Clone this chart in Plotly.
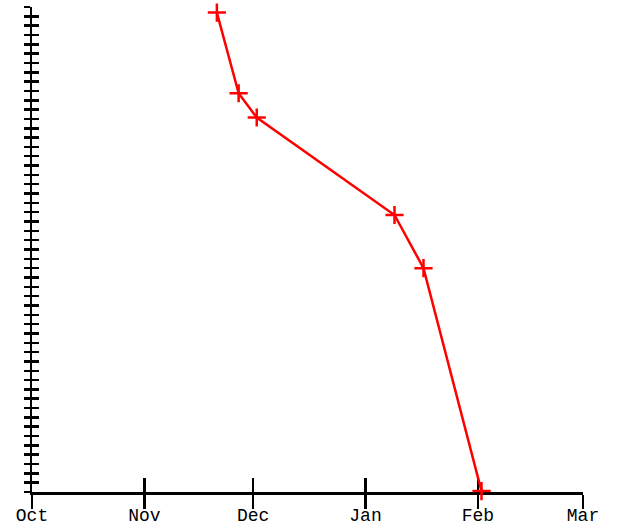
import plotly.graph_objects as go

dates = ["2023-11-21", "2023-11-27", "2023-12-02", "2024-01-09", "2024-01-17", "2024-02-02"]
values = [51.4, 42.75, 40.15, 29.7, 24.0, 0.1]
month_ticks = ["2023-10-01", "2023-11-01", "2023-12-01", "2024-01-01", "2024-02-01", "2024-03-01"]
month_labels = ["Oct", "Nov", "Dec", "Jan", "Feb", "Mar"]
y_ticks = list(range(0, 53))

xr = ["2023-10-01", "2024-03-01"]
yr = [0, 52]
font = dict(family="Liberation Mono, Courier New, monospace", size=18, color="black")

fig = go.Figure()
fig.add_trace(go.Scatter(
    x=dates, y=values, mode="lines+markers",
    line=dict(color="red", width=2.5),
    marker=dict(symbol="cross-thin", size=13, line=dict(color="red", width=2.5)),
    cliponaxis=False, showlegend=False, xaxis="x", yaxis="y", hoverinfo="skip",
))
# invisible trace for overlay axes
fig.add_trace(go.Scatter(x=[xr[0]], y=[yr[0]], mode="markers", opacity=0,
                         showlegend=False, hoverinfo="skip", xaxis="x2", yaxis="y2"))

common_x = dict(type="date", range=xr, tickmode="array", tickvals=month_ticks,
                showgrid=False, zeroline=False, tickwidth=2.5, tickcolor="black",
                ticklen=14, layer="below traces", automargin=False)
common_y = dict(range=yr, tickmode="array", tickvals=y_ticks, showgrid=False,
                zeroline=False, tickwidth=2.5, tickcolor="black", layer="below traces",
                automargin=False)

fig.update_layout(
    width=620, height=529,
    margin=dict(l=31.7, r=36.7, t=6.7, b=37, pad=0, autoexpand=False),
    paper_bgcolor="white", plot_bgcolor="white",
    font=font,
    xaxis=dict(**common_x, ticks="outside", ticktext=month_labels, showline=True,
               linecolor="black", linewidth=2.5, tickfont=font, anchor="y",
               ticklabelstandoff=-9),
    xaxis2=dict(**common_x, ticks="inside", showticklabels=False, showline=False,
                overlaying="x", anchor="y2", side="bottom"),
    yaxis=dict(**common_y, ticks="outside", ticklen=6, showticklabels=False,
               showline=True, linecolor="black", linewidth=2.5, anchor="x"),
    yaxis2=dict(**common_y, ticks="inside", ticklen=7, showticklabels=False,
                showline=False, overlaying="y", anchor="x2", side="left"),
)

fig.write_html("out.html", config={"displayModeBar": False, "staticPlot": True},
               post_script="document.body.style.margin='0';")
